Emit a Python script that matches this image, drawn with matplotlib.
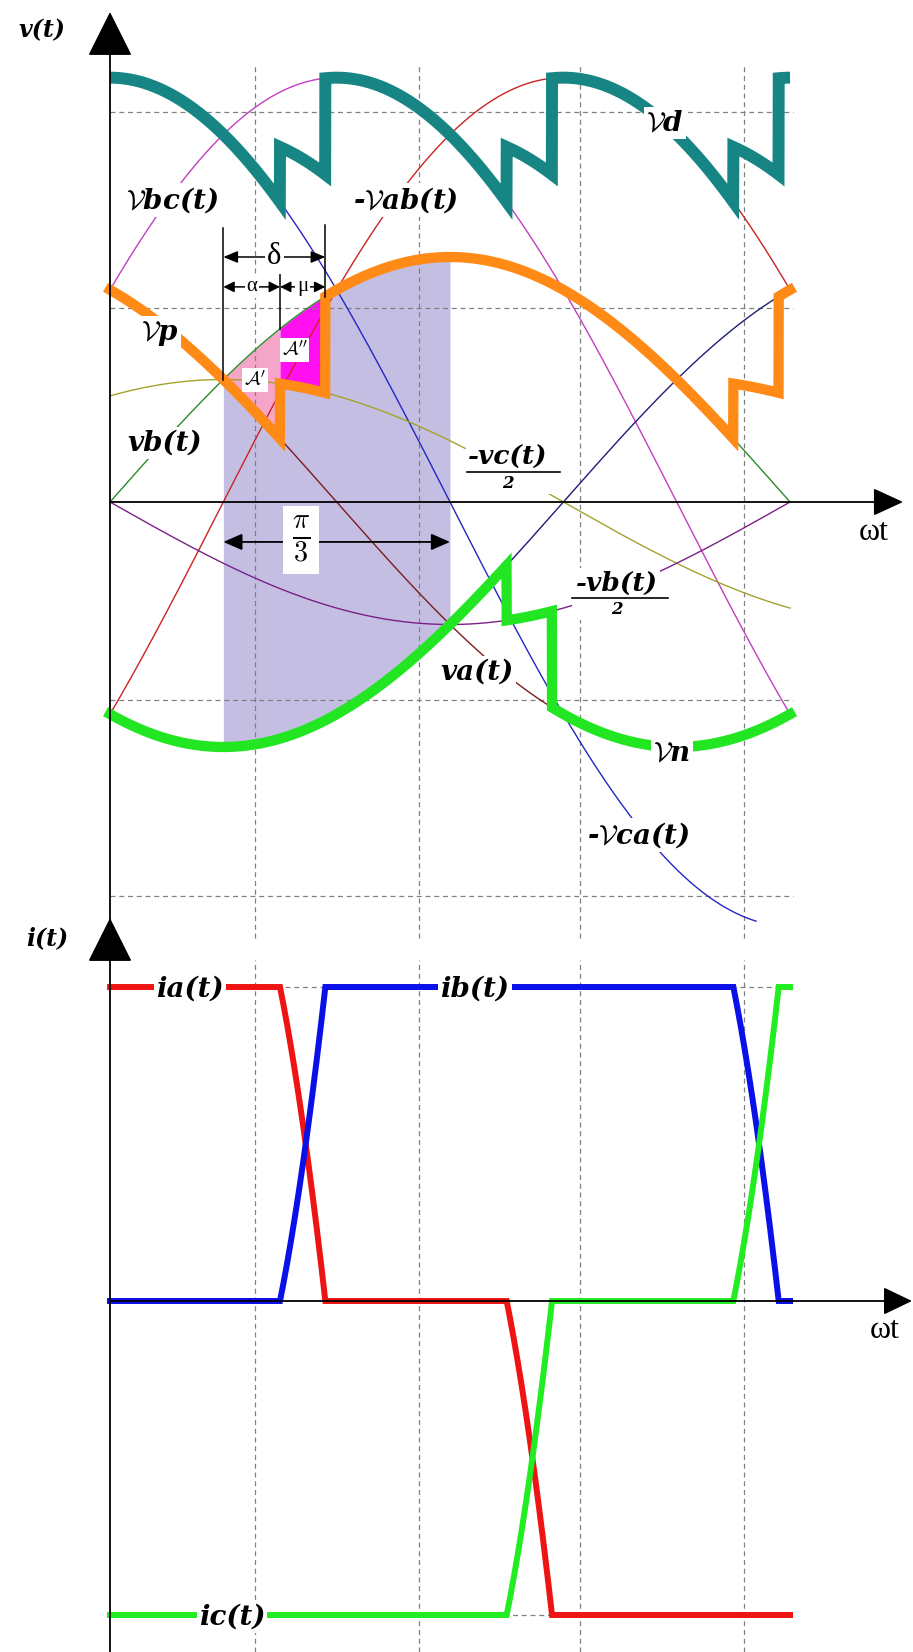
"""Three-phase bridge with commutation overlap: rail voltages and line currents."""
import matplotlib.pyplot as plt
import numpy as np
from matplotlib.lines import Line2D
from matplotlib.patches import Rectangle

# operating point (angles in degrees, values per unit)
ALPHA = 15.0                         # firing delay
MU = 12.0                            # overlap angle
VM = 1.0                             # phase peak voltage
ID = 1.0                             # dc current
PHASE_SHIFT = [120.0, 0.0, -120.0]   # va, vb, vc against wt
POS_NATURAL = [30.0, 150.0]          # a->b, b->c on the positive rail
NEG_NATURAL = [90.0]                 # c->a on the negative rail
WT_SPAN = [0.0, 180.0]
SHADE = [30.0, 90.0]
VCA_END = 171.0

GRID_WT = [38.4, 81.8, 124.4, 167.8]
GRID_V = [1.59, 0.79, -0.81, -1.61]
GRID_I = [1.0, -1.0]

# canvas geometry (pixels at dpi 100)
W, H = 913, 1652
X0, DEG = 110, 3.778      # x of wt=0, pixels per degree
V0, PV = 502, 245         # y of v=0, pixels per unit
I0, PI_ = 1301, 314       # y of i=0, pixels per unit
V_BOTTOM, I_TOP = 950, 900

PT = 0.72                 # points per pixel


def rad(a):
    return np.radians(a)


wt = np.linspace(WT_SPAN[0], WT_SPAN[1], 3601)
va, vb, vc = (VM * np.sin(rad(wt + s)) for s in PHASE_SHIFT)

ab, bc = (n + ALPHA for n in POS_NATURAL)
ca = NEG_NATURAL[0] + ALPHA
vp = np.select([wt < ab, wt < ab + MU, wt < bc, wt < bc + MU],
               [va, -vc / 2, vb, -va / 2], vc)
vn = np.select([wt < ca, wt < ca + MU], [vc, -vb / 2], va)
vd = vp - vn


def overlap(natural):
    th = wt - natural
    k = np.cos(rad(ALPHA)) - np.cos(rad(ALPHA + MU))
    r = (np.cos(rad(ALPHA)) - np.cos(rad(th))) / k
    return np.clip(np.where(th < ALPHA, 0.0, r), 0.0, 1.0)


r_ab, r_bc = (overlap(n) for n in POS_NATURAL)
r_ca = overlap(NEG_NATURAL[0])
ia = ID * (1 - r_ab - r_ca)
ib = ID * (r_ab - r_bc)
ic = ID * (r_ca - 1 + r_bc)

fig = plt.figure(figsize=(W / 100, H / 100), dpi=100)
ax_v = fig.add_axes([0, 1 - V_BOTTOM / H, 1, V_BOTTOM / H])
ax_i = fig.add_axes([0, 0, 1, (H - I_TOP) / H])
xlim = (-X0 / DEG, (W - X0) / DEG)
ax_v.set_xlim(xlim)
ax_v.set_ylim((V0 - V_BOTTOM) / PV, V0 / PV)
ax_i.set_xlim(xlim)
ax_i.set_ylim(-(H - I0) / PI_, (I0 - I_TOP) / PI_)
for ax in (ax_v, ax_i):
    ax.axis("off")


def vy(py):
    return (V0 - py) / PV


def iy(py):
    return (I0 - py) / PI_


def arrow(ax, start, end, style, hl, hw, lw=1.3):
    ax.annotate("", xy=end, xytext=start, zorder=5,
                arrowprops=dict(arrowstyle=f"{style},head_length={hl * PT},head_width={hw * PT}",
                                mutation_scale=1, lw=lw, color="black",
                                shrinkA=0, shrinkB=0))


# grid
grid_kw = dict(color="#808080", lw=0.9, ls=(0, (4, 3)), zorder=1.5)
for g in GRID_V:
    ax_v.plot([0, 180.8], [g, g], **grid_kw)
for g in GRID_WT:
    ax_v.plot([g, g], [vy(938), vy(63)], **grid_kw)
    ax_i.plot([g, g], [iy(H), iy(960)], **grid_kw)
for g in GRID_I:
    ax_i.plot(WT_SPAN, [g, g], **grid_kw)

# shaded areas
shade = (wt >= SHADE[0]) & (wt <= SHADE[1])
ax_v.fill_between(wt, vn, vp, where=shade, color="#c4bee3", lw=0, zorder=1)
a1 = (wt >= POS_NATURAL[0]) & (wt <= ab)
ax_v.fill_between(wt, va, vb, where=a1, color="#f5a6c8", lw=0, zorder=1.2)
a2 = (wt >= ab) & (wt <= ab + MU)
ax_v.fill_between(wt, -vc / 2, vb, where=a2, color="#ff10f0", lw=0, zorder=1.2)

# phase and line voltages
thin = [
    (vb - vc, "#c23ec2"),
    (vb - va, "#cc2222"),
    (np.where(wt <= VCA_END, va - vc, np.nan), "#2626c4"),
    (vc, "#1e1e78"),
    (vb, "#2b8a2b"),
    (va, "#7c1c1c"),
    (-vc / 2, "#a3a32c"),
    (-vb / 2, "#7c2088"),
]
for y, c in thin:
    ax_v.plot(wt, y, color=c, lw=1.0, zorder=2)

# rails and dc voltage
ax_v.plot(wt, vn, color="#22e622", lw=7.4, zorder=4, solid_joinstyle="miter")
ax_v.plot(wt, vp, color="#ff8a16", lw=7.4, zorder=4, solid_joinstyle="miter")
ax_v.plot(wt, vd, color="#188585", lw=8.6, zorder=4, solid_joinstyle="miter",
          solid_capstyle="butt")

# line currents
for y, c in [(ia, "#ee1414"), (ib, "#0a10e8"), (ic, "#22ec22")]:
    ax_i.plot(wt, y, color=c, lw=4.3, zorder=4, solid_joinstyle="miter")

# axes with arrow heads
arrow(ax_v, (0, vy(V_BOTTOM)), (0, vy(12)), "-|>", 40, 20)
arrow(ax_v, (0, 0), ((903 - X0) / DEG, 0), "-|>", 26, 12)
arrow(ax_i, (0, iy(H)), (0, iy(918)), "-|>", 40, 20)
arrow(ax_i, (0, 0), ((912 - X0) / DEG, 0), "-|>", 25, 12)

# overlap dimensioning
for x, top in [(POS_NATURAL[0], 1.12), (ab, 0.93), (ab + MU, 1.13)]:
    ax_v.plot([x, x], [VM * np.sin(rad(x)), top], color="black", lw=1.1, zorder=5)
arrow(ax_v, (POS_NATURAL[0], 1.0), (ab + MU, 1.0), "<|-|>", 12, 5, lw=1.1)
arrow(ax_v, (POS_NATURAL[0], 0.878), (ab, 0.878), "<|-|>", 9, 4.5, lw=1.1)
arrow(ax_v, (ab, 0.878), (ab + MU, 0.878), "<|-|>", 9, 4.5, lw=1.1)
arrow(ax_v, (SHADE[0], -0.163), (SHADE[1], -0.163), "<|-|>", 16, 7, lw=1.3)

white = dict(boxstyle="square,pad=0.08", fc="white", ec="none")
serif = "Liberation Serif"
ax_v.text((POS_NATURAL[0] + ab + MU) / 2, 1.0, "δ", family=serif, fontsize=22,
          ha="center", va="center", bbox=white, zorder=6)
ax_v.text((POS_NATURAL[0] + ab) / 2, 0.878, "α", family=serif, fontsize=15,
          ha="center", va="center", bbox=white, zorder=6)
ax_v.text(ab + MU / 2, 0.878, "μ", family=serif, fontsize=15,
          ha="center", va="center", bbox=white, zorder=6)
ax_v.text(50.6, -0.155, r"$\frac{\pi}{\mathbf{3}}$", math_fontfamily="cm", fontsize=29,
          ha="center", va="center", zorder=6,
          bbox=dict(boxstyle="square,pad=0.22", fc="white", ec="none"))
ax_v.text(38.4, vy(380), r"$\mathcal{A}^{\prime}$", math_fontfamily="cm", fontsize=14,
          ha="center", va="center", zorder=6,
          bbox=dict(boxstyle="square,pad=0.1", fc="white", ec="none"))
ax_v.text(48.8, vy(350), r"$\mathcal{A}^{\prime\prime}$", math_fontfamily="cm", fontsize=14,
          ha="center", va="center", zorder=6,
          bbox=dict(boxstyle="square,pad=0.1", fc="white", ec="none"))


def label(x, y, s, size=20, box=True, **kw):
    opts = dict(fontsize=size, fontstyle="italic", fontweight="bold",
                family="DejaVu Serif", math_fontfamily="cm")
    opts.update(kw)
    fig.text(x / W, 1 - y / H, s, ha="center", va="center", zorder=10,
             bbox=white if box else None, **opts)


def fraction(x, y, top, x0, x1, size=19):
    # white backing so curves break around the whole fraction
    fig.add_artist(Rectangle((x0 / W, 1 - (y + 22) / H), (x1 - x0) / W, 46 / H,
                             transform=fig.transFigure, fc="white", ec="none",
                             zorder=9.5))
    label(x, y - 15, top, size=size)
    label(x, y + 12, "2", size=12, box=False)
    fig.add_artist(Line2D([x0 / W, x1 / W], [1 - y / H, 1 - y / H],
                          color="black", lw=1.2, zorder=11))


label(42, 30, "v(t)", size=17, box=False)
label(172, 200, r"$\mathcal{V}$bc(t)")
label(406, 200, r"-$\mathcal{V}$ab(t)")
label(665, 123, r"$\mathcal{V}$d")
label(160, 333, r"$\mathcal{V}$p")
label(165, 443, "vb(t)")
fraction(508, 472, "-vc(t)", 467, 560)
label(477, 672, "va(t)")
fraction(617, 598, "-vb(t)", 572, 668)
label(672, 753, r"$\mathcal{V}$n")
label(638, 835, r"-$\mathcal{V}$ca(t)")
label(874, 533, "ωt", size=23, box=False, fontstyle="normal", fontweight="normal",
      family="Liberation Serif")

label(47, 938, "i(t)", size=17, box=False)
label(190, 989, "ia(t)")
label(475, 989, "ib(t)")
label(232, 1617, "ic(t)")
label(885, 1331, "ωt", size=23, box=False, fontstyle="normal", fontweight="normal",
      family="Liberation Serif")

fig.savefig("out.png", dpi=100)
plt.close(fig)
